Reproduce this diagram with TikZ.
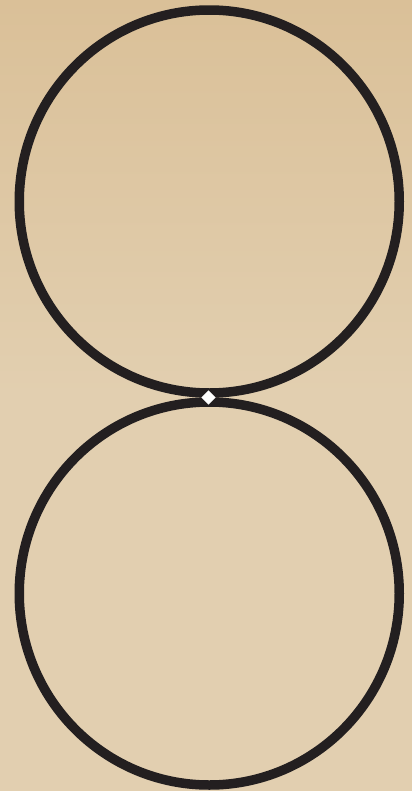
\documentclass[tikz,border=0pt]{standalone}
\usepackage{tikz}
\usetikzlibrary{positioning}
\usepackage{xcolor}
\definecolor{paper}{RGB}{226,207,176}
\definecolor{paperdark}{RGB}{218,192,152}
\definecolor{ink}{RGB}{35,31,32}

\begin{document}
\begin{tikzpicture}[x=0.02cm,y=-0.02cm,
		ring/.style={draw=ink,line width=0.19cm},
		spot/.style={fill=white,rotate=45,minimum size=0.2cm,inner sep=0pt}]
		\useasboundingbox (0,0) rectangle (412,791);
		% paper
		\shade[top color=paperdark,bottom color=paper,middle color=paper] (0,0) rectangle (412,791);
		
		\coordinate (upper) at (209.25,201.5);
		\coordinate (lower) at (209.25,593.5);
		\draw[ring] (upper) circle[x radius=190, y radius=191.5];
		\draw[ring] (lower) circle[x radius=190, y radius=191.5];
		
		\node[spot] (touch) at (208.5,397.5) {};
	\end{tikzpicture}
\end{document}
